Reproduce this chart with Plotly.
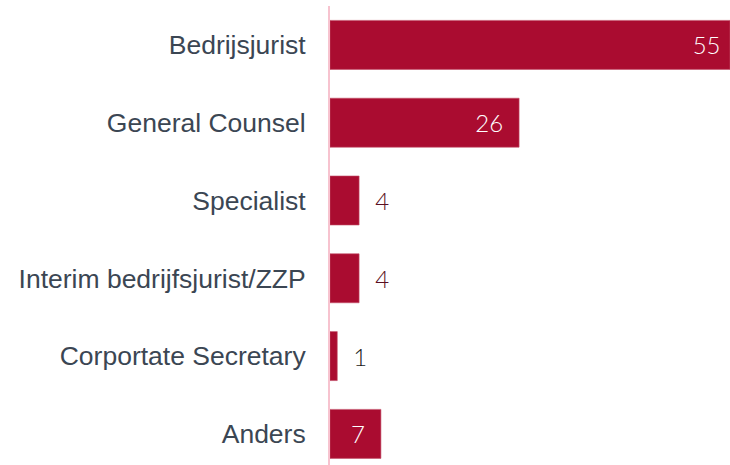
import plotly.graph_objects as go

categories = ["Bedrijsjurist", "General Counsel", "Specialist",
              "Interim bedrijfsjurist/ZZP", "Corportate Secretary", "Anders"]
values = [55, 26, 4, 4, 1, 7]
text_positions = ["inside", "inside", "outside", "outside", "outside", "inside"]
text_colors = ["#ffffff", "#ffffff", "#5a0f22", "#5a0f22", "#1a1a1a", "#ffffff"]
text_templates = ["%{x}\u00a0", "\u00a0\u00a0%{x}\u00a0\u00a0", "\u00a0\u00a0%{x}",
                  "\u00a0\u00a0%{x}", "\u00a0\u00a0%{x}", "\u00a0\u00a0%{x}\u00a0\u00a0"]

fig = go.Figure(go.Bar(
    x=values,
    y=categories,
    orientation="h",
    marker=dict(color="#aa0c30", line=dict(color="#c4506a", width=0.6)),
    texttemplate=text_templates,
    textposition=text_positions,
    insidetextanchor="end",
    constraintext="none",
    cliponaxis=False,
    textfont=dict(family="Lato", size=24, weight=300, color=text_colors),
    hoverinfo="skip",
))

fig.update_layout(
    width=730, height=465,
    margin=dict(l=330, r=0, t=6, b=0),
    paper_bgcolor="white", plot_bgcolor="white",
    bargap=0.37,
    showlegend=False,
    xaxis=dict(range=[0, 55], visible=False, fixedrange=True),
    yaxis=dict(
        categoryorder="array", categoryarray=categories,
        range=[5.4, -0.5],
        showline=True, linecolor="#f7c3cf", linewidth=2,
        showgrid=False, zeroline=False,
        ticks="", ticklabelstandoff=17,
        tickfont=dict(family="Liberation Sans, Arial, sans-serif", size=26.5, color="#3b4653"),
    ),
)

fig.write_html(
    "out.html",
    config={"displayModeBar": False},
    post_script="document.body.style.margin='0';document.body.style.overflow='hidden';",
)
